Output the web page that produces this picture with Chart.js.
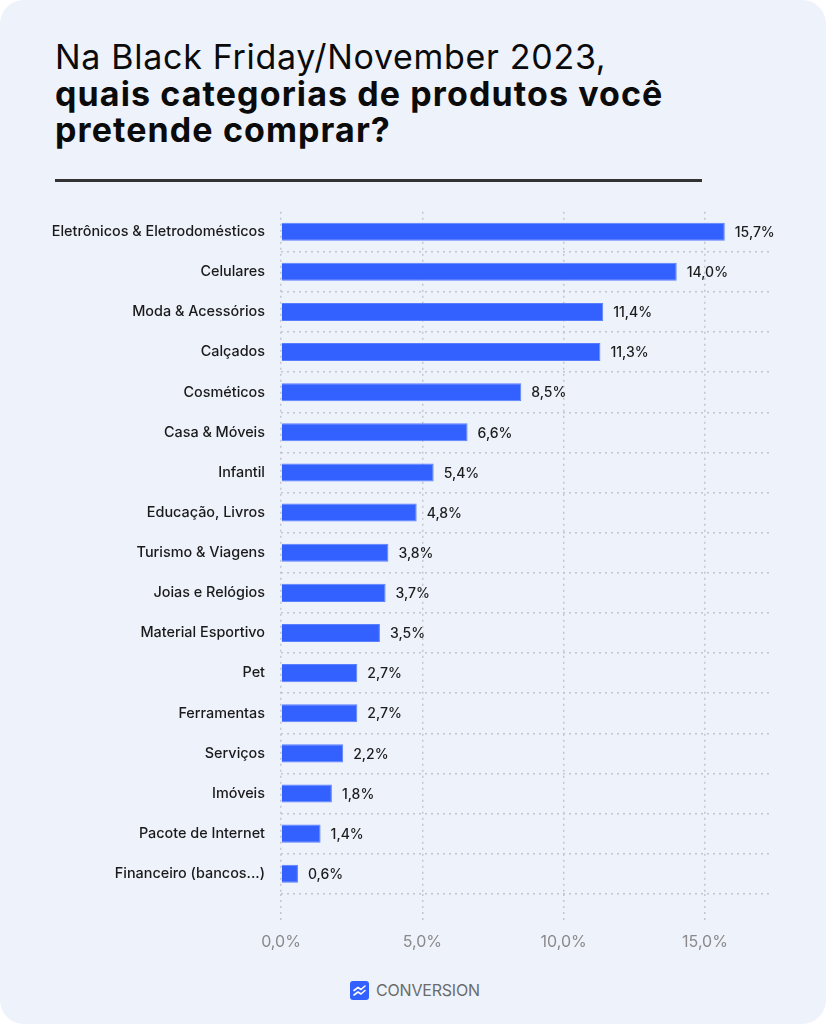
<!DOCTYPE html>
<html lang="pt-BR">
<head>
  <meta charset="UTF-8" />
  <title>Black Friday 2023 - categorias</title>
  <script src="https://cdn.jsdelivr.net/npm/chart.js"></script>
  <style>
    html, body { margin: 0; padding: 0; background: #ffffff; }
    .card {
      position: relative;
      width: 826px;
      height: 1024px;
      background: #eef2fb;
      border-radius: 24px;
      overflow: hidden;
      font-family: Inter, "Noto Sans", sans-serif;
    }
    h1 {
      position: absolute;
      left: 55px;
      top: 39px;
      margin: 0;
      font-size: 34px;
      line-height: 36.5px;
      color: #0b0b0b;
      font-weight: 700;
      letter-spacing: 1.1px;
    }
    h1 .light { font-weight: 400; letter-spacing: 0.7px; }
    .rule {
      position: absolute;
      left: 55px;
      top: 179px;
      width: 647px;
      height: 3px;
      background: #333;
    }
    .chart-box {
      position: absolute;
      left: 0;
      top: 187px;
      width: 826px;
      height: 777px;
    }
    .brand {
      position: absolute;
      left: 350px;
      top: 980px;
      display: flex;
      align-items: center;
      gap: 7px;
      color: #6b6b6b;
      font-size: 16px;
      letter-spacing: -0.2px;
    }
  </style>
</head>
<body>
  <div class="card">
    <h1><span class="light">Na Black Friday/November 2023,</span><br>quais categorias de produtos você<br>pretende comprar?</h1>
    <div class="rule"></div>
    <div class="chart-box"><canvas id="chart"></canvas></div>
    <div class="brand">
      <svg width="19" height="19" viewBox="0 0 19 19">
        <rect x="0" y="0" width="19" height="19" rx="3" fill="#3361ff"/>
        <path d="M4 9.5 L8 6.5 L11 8.5 L15 5" stroke="#fff" stroke-width="1.6" fill="none" stroke-linecap="round" stroke-linejoin="round"/>
        <path d="M4 14 L8 11 L11 13 L15 9.5" stroke="#fff" stroke-width="1.6" fill="none" stroke-linecap="round" stroke-linejoin="round"/>
      </svg>
      <span>CONVERSION</span>
    </div>
  </div>

  <script>
    const categories = [
      'Eletrônicos & Eletrodomésticos',
      'Celulares',
      'Moda & Acessórios',
      'Calçados',
      'Cosméticos',
      'Casa & Móveis',
      'Infantil',
      'Educação, Livros',
      'Turismo & Viagens',
      'Joias e Relógios',
      'Material Esportivo',
      'Pet',
      'Ferramentas',
      'Serviços',
      'Imóveis',
      'Pacote de Internet',
      'Financeiro (bancos...)'
    ];
    const shares = [15.7, 14.0, 11.4, 11.3, 8.5, 6.6, 5.4, 4.8, 3.8, 3.7, 3.5, 2.7, 2.7, 2.2, 1.8, 1.4, 0.6];
    const xTicks = [0, 5, 10, 15];

    const gridColor = '#c3c6ce';

    function fmt(v) {
      return v.toFixed(1).replace('.', ',') + '%';
    }

    // value labels to the right of each bar
    const barLabels = {
      id: 'barLabels',
      afterDatasetsDraw(chart) {
        const ctx = chart.ctx;
        const meta = chart.getDatasetMeta(0);
        ctx.save();
        ctx.font = '500 14px Inter';
        ctx.fillStyle = '#1c1c1c';
        ctx.textBaseline = 'middle';
        meta.data.forEach((bar, i) => {
          ctx.fillText(fmt(shares[i]), bar.x + 10, bar.y + 1);
        });
        ctx.restore();
      }
    };

    new Chart(document.getElementById('chart'), {
      type: 'bar',
      data: {
        labels: categories,
        datasets: [{
          data: shares,
          backgroundColor: '#3361ff',
          borderColor: '#5b80ff',
          borderWidth: 1,
          barPercentage: 0.45,
          categoryPercentage: 1
        }]
      },
      options: {
        indexAxis: 'y',
        responsive: true,
        maintainAspectRatio: false,
        animation: false,
        layout: { padding: { top: 20, right: 56, bottom: 0, left: 0 } },
        plugins: {
          legend: { display: false },
          tooltip: { enabled: false }
        },
        scales: {
          x: {
            min: 0,
            max: 17.3,
            afterBuildTicks: scale => { scale.ticks = xTicks.map(v => ({ value: v })); },
            ticks: {
              callback: v => fmt(v),
              color: '#8a8a8a',
              font: { family: 'Inter', size: 16 },
              padding: 12
            },
            grid: {
              color: gridColor,
              lineWidth: 1.5,
              tickLength: 27,
              tickColor: gridColor,
              tickBorderDash: [2, 4]
            },
            // in v4 the grid line dash comes from border.dash
            border: { display: false, dash: [2, 4] }
          },
          y: {
            afterFit: scale => { scale.width = 281; },
            ticks: {
              color: '#1a1a1a',
              font: { family: 'Inter', size: 14.4, weight: 500 },
              padding: 16
            },
            grid: {
              drawTicks: false,
              color: c => c.index === 0 ? 'rgba(0,0,0,0)' : gridColor,
              lineWidth: 1.5
            },
            border: { display: false, dash: [2, 4] }
          }
        }
      },
      plugins: [barLabels]
    });
  </script>
</body>
</html>
